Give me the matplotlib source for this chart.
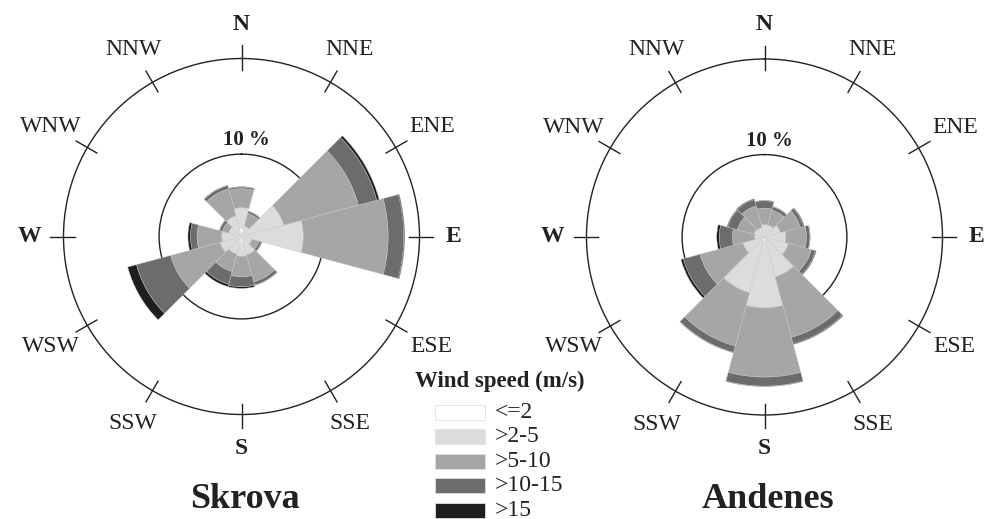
import numpy as np
import matplotlib.pyplot as plt
from matplotlib.patches import Rectangle

plt.rcParams['font.family'] = ['Liberation Serif', 'DejaVu Serif']

directions = ['N', 'NNE', 'ENE', 'E', 'ESE', 'SSE', 'S', 'SSW', 'WSW', 'W', 'WNW', 'NNW']
speed_classes = ['<=2', '>2-5', '>5-10', '>10-15', '>15']
class_colors = ['#ffffff', '#dcdcdc', '#a6a6a6', '#6c6c6c', '#1e1e1e']

# frequency (%) by direction, one list per speed class
skrova_le2 = [1.0, 0.3, 0.5, 0.3, 0.3, 0.4, 0.8, 0.4, 0.5, 0.4, 0.3, 0.3]
skrova_2_5 = [2.5, 1.0, 4.8, 7.2, 1.0, 1.9, 1.6, 1.8, 2.2, 2.0, 1.3, 2.3]
skrova_5_10 = [2.3, 1.6, 9.4, 10.3, 0.9, 3.4, 2.5, 2.2, 6.2, 3.0, 0.8, 3.4]
skrova_10_15 = [0.2, 0.25, 2.3, 1.9, 0.3, 0.4, 1.2, 1.6, 4.3, 0.8, 0.35, 0.4]
skrova_gt15 = [0.05, 0.05, 0.3, 0.1, 0.05, 0.05, 0.2, 0.3, 1.1, 0.3, 0.05, 0.05]

andenes_le2 = [0.4, 0.3, 0.3, 0.3, 0.3, 0.4, 0.6, 0.5, 0.4, 0.3, 0.3, 0.3]
andenes_2_5 = [1.1, 1.2, 1.7, 2.3, 2.7, 4.6, 8.0, 6.5, 2.3, 0.9, 1.0, 0.9]
andenes_5_10 = [2.0, 1.9, 2.5, 2.5, 2.9, 7.6, 8.4, 6.7, 5.4, 2.7, 2.1, 2.7]
andenes_10_15 = [0.9, 0.4, 0.4, 0.4, 0.5, 0.8, 1.1, 0.8, 2.1, 1.6, 1.2, 0.8]
andenes_gt15 = [0.05, 0.05, 0.1, 0.05, 0.1, 0.1, 0.05, 0.05, 0.3, 0.3, 0.1, 0.1]

W, H = 989, 519
fig = plt.figure(figsize=(W / 100, H / 100), dpi=100)

R_PX = 178.0          # outer ring radius in pixels
RMAX = 21.6           # outer ring in %
AX_PX = 2 * R_PX


def rose(cx, cy, classes, title):
    ax = fig.add_axes([(cx - R_PX) / W, (H - cy - R_PX) / H, AX_PX / W, AX_PX / H],
                      projection='polar')
    ax.set_theta_zero_location('N')
    ax.set_theta_direction(-1)
    theta = np.deg2rad(np.arange(len(directions)) * 30)
    width = np.deg2rad(30)
    bottom = np.zeros(len(directions))
    for vals, col in zip(classes, class_colors):
        ax.bar(theta, vals, width=width, bottom=bottom, color=col,
               edgecolor='#c8c8c8', linewidth=0.3, zorder=3)
        bottom = bottom + np.array(vals)
    ax.set_ylim(0, RMAX)
    ax.set_rgrids([10], labels=[''])
    ax.yaxis.grid(True, color='#222222', linewidth=1.0)
    ax.xaxis.grid(False)
    ax.set_axisbelow(True)
    ax.spines['polar'].set_linewidth(1.0)
    ax.spines['polar'].set_color('#222222')
    ax.set_xticks(theta)
    ax.set_xticklabels([''] * len(directions))
    ax.tick_params(length=0)

    # tick marks crossing the outer ring
    r_in = RMAX * (1 - 11 / R_PX)
    r_out = RMAX * (1 + 13 / R_PX)
    for th in theta:
        ax.plot([th, th], [r_in, r_out], color='#222222', lw=1.0, clip_on=False, zorder=4)

    for lab, th in zip(directions, theta):
        r = 212 + (9 * abs(np.sin(th)) if len(lab) == 3 else 0)
        x = 0.5 + r * np.sin(th) / AX_PX
        y = 0.5 + r * np.cos(th) / AX_PX
        bold = len(lab) == 1
        ax.text(x, y, lab, transform=ax.transAxes, ha='center', va='center',
                fontsize=17, fontweight='bold' if bold else 'normal', color='#222222',
                clip_on=False)
    ax.text(0.515, 0.757, '10 %', transform=ax.transAxes, ha='center', va='baseline',
            fontsize=15, fontweight='bold', color='#222222')
    fig.text((cx + 3) / W, 1 - 508 / H, title, ha='center', va='baseline',
             fontsize=26, fontweight='bold', color='#222222')
    return ax


rose(241.5, 236.5, [skrova_le2, skrova_2_5, skrova_5_10, skrova_10_15, skrova_gt15], 'Skrova')
rose(764.5, 237.0, [andenes_le2, andenes_2_5, andenes_5_10, andenes_10_15, andenes_gt15], 'Andenes')

# legend
fig.text(500 / W, 1 - 381 / H, 'Wind speed (m/s)', ha='center', va='center',
         fontsize=16.5, fontweight='bold', color='#222222')
for i, (lab, col) in enumerate(zip(speed_classes, class_colors)):
    yc = 412.0 + 24.6 * i
    fig.add_artist(Rectangle((435 / W, 1 - (yc + 7.5) / H), 50 / W, 15 / H,
                             transform=fig.transFigure, facecolor=col,
                             edgecolor='#e0e0e0', linewidth=0.6))
    fig.text(495 / W, 1 - yc / H, lab, ha='left', va='center', fontsize=17, color='#222222')

fig.savefig('out.png', dpi=100)
